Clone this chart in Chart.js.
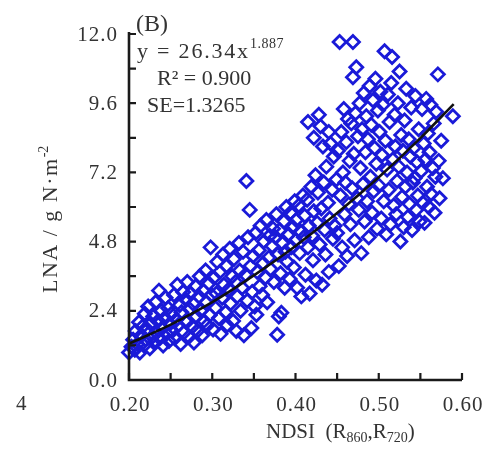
<!DOCTYPE html>
<html>
<head>
<meta charset="utf-8">
<script src="https://cdn.jsdelivr.net/npm/chart.js@4.4.1/dist/chart.umd.min.js"></script>
<style>
html,body{margin:0;padding:0;background:#fff;}
canvas{display:block;}
</style>
</head>
<body>
<canvas id="c" width="485" height="451"></canvas>
<script>
// ---- data ----
const ndsi = [
0.200,0.203,0.205,0.207,0.208,0.210,0.212,0.213,0.215,0.216,0.218,0.219,0.220,0.222,0.223,0.225,0.226,0.228,0.229,0.230,0.232,0.233,0.235,0.236,0.237,0.239,0.240,0.241,0.243,0.244,0.245,0.247,0.248,0.249,
0.251,0.252,0.254,0.255,0.257,0.258,0.259,0.261,0.262,0.263,0.265,0.266,0.268,0.269,0.270,0.272,0.273,0.274,0.276,0.277,0.278,0.280,0.281,0.282,0.284,0.285,0.286,0.288,0.289,0.290,0.292,0.293,0.294,0.296,0.297,0.298,0.299,
0.301,0.302,0.304,0.305,0.306,0.308,0.309,0.310,0.312,0.313,0.314,0.316,0.317,0.318,0.320,0.321,0.322,0.324,0.325,0.326,0.328,0.329,0.330,0.332,0.333,0.334,0.336,0.337,0.338,0.340,0.341,0.342,0.343,0.345,0.346,0.347,0.348,0.349,
0.351,0.352,0.353,0.354,0.356,0.357,0.358,0.360,0.361,0.362,0.364,0.365,0.366,0.368,0.369,0.370,0.372,0.373,0.374,0.376,0.377,0.378,0.379,0.380,0.381,0.382,0.383,0.384,0.386,0.387,0.388,0.389,0.390,0.392,0.393,0.394,0.395,0.397,0.398,0.399,
0.400,0.401,0.402,0.404,0.405,0.406,0.407,0.409,0.410,0.411,0.412,0.414,0.415,0.416,0.417,0.419,0.420,0.421,0.422,0.424,0.425,0.426,0.427,0.429,0.430,0.431,0.432,0.434,0.435,0.436,0.437,0.439,0.440,0.441,0.442,0.444,0.445,0.446,0.447,0.449,
0.415,0.428,0.440,0.422,0.433,
0.450,0.451,0.452,0.453,0.454,0.455,0.456,0.457,0.458,0.459,0.460,0.461,0.462,0.463,0.464,0.465,0.466,0.467,0.468,0.469,0.469,0.470,0.471,0.472,0.473,0.474,0.475,0.476,0.477,0.478,0.479,0.480,0.481,0.482,0.483,0.484,0.485,0.486,0.487,0.488,0.489,0.490,0.491,0.492,0.493,0.494,0.495,0.496,0.497,0.498,0.499,
0.500,0.501,0.502,0.503,0.504,0.505,0.506,0.507,0.508,0.509,0.510,0.511,0.512,0.513,0.514,0.515,0.516,0.517,0.518,0.519,0.520,0.521,0.522,0.523,0.524,0.525,0.526,0.527,0.528,0.529,0.530,0.531,0.532,0.533,0.534,0.535,0.536,0.537,0.538,0.539,0.540,0.541,0.542,0.543,0.544,0.545,0.546,0.547,0.548,0.549,
0.551,0.552,0.553,0.554,0.555,0.556,0.557,0.558,0.559,0.560,0.561,0.562,0.563,0.565,0.566,0.567,0.568,0.569,0.571,0.572,0.573,0.575,0.577,0.589
];
const lna = [
0.95,1.15,1.40,1.05,1.70,1.25,2.00,0.95,1.55,1.85,1.20,2.30,1.40,1.75,2.55,1.10,1.95,1.50,2.20,1.30,2.70,1.65,2.05,3.10,1.45,2.40,1.80,1.20,2.15,2.85,1.60,2.50,1.35,1.95,
2.30,1.70,2.95,1.45,2.10,3.30,1.90,2.60,1.25,2.35,3.05,1.65,2.80,2.00,3.40,1.50,2.45,3.00,1.85,2.65,1.30,3.25,2.20,1.70,2.90,3.60,2.40,1.55,3.10,2.05,3.80,2.70,1.90,3.35,2.25,4.60,2.95,
1.75,3.55,2.50,3.00,4.10,2.15,3.75,1.60,2.85,4.35,3.30,2.35,3.95,1.90,3.15,4.55,2.65,3.60,2.05,4.20,3.40,1.70,2.90,4.75,3.80,2.40,3.20,4.45,1.55,3.65,6.90,2.75,4.95,5.90,3.95,1.80,3.05,4.30,
2.55,5.10,2.26,3.75,4.50,3.25,5.35,2.95,4.05,4.80,3.55,5.55,2.70,4.25,5.00,3.85,4.65,5.25,3.40,4.95,5.75,1.57,4.35,2.20,5.20,3.70,2.33,4.75,5.50,3.20,4.45,6.00,4.10,5.05,3.50,5.80,4.60,5.30,3.90,6.20,
4.85,5.55,3.20,6.05,4.40,5.15,2.90,6.40,4.95,5.70,3.65,6.25,4.60,5.35,3.00,6.70,5.00,4.15,5.85,7.10,3.45,5.45,6.50,4.70,8.80,5.95,3.30,6.85,5.20,4.35,7.40,6.15,3.75,5.60,8.20,6.60,4.90,7.75,5.35,6.95,
8.95,9.20,8.60,8.40,8.10,
5.10,7.95,3.95,11.72,6.40,8.60,4.60,7.20,9.40,5.75,6.85,8.25,4.30,9.05,6.10,7.60,5.40,8.90,6.65,11.72,10.50,7.85,4.85,9.25,10.85,6.30,8.45,5.90,9.60,7.35,4.40,8.70,6.80,9.95,5.50,7.90,9.15,6.20,8.35,4.95,10.20,7.05,8.85,5.80,9.70,6.55,8.05,10.45,7.50,5.25,9.35,
6.75,8.60,10.00,5.60,7.80,9.55,6.20,11.40,8.30,5.05,7.30,9.90,6.60,8.95,5.40,10.30,11.20,7.65,6.05,9.20,8.10,5.75,6.90,9.60,7.40,10.70,4.80,8.50,6.35,7.95,5.30,9.00,6.70,10.10,7.20,5.65,8.35,6.10,7.75,9.45,5.20,6.85,8.05,7.00,9.85,5.90,7.55,6.40,8.70,5.50,
7.25,9.40,6.15,8.20,5.45,7.65,9.75,6.70,8.55,6.00,7.90,9.55,6.45,7.35,8.90,5.80,7.05,9.30,10.60,7.60,6.30,8.30,7.00,9.15
];
// fitted power curve y = 26.34x^1.887
const fitX = [0.20,0.25,0.30,0.35,0.40,0.45,0.50,0.55,0.59];
const fitY = [1.26,1.92,2.70,3.63,4.65,5.79,7.03,8.39,9.57];
// axis ticks
const xTicks = [0.20,0.30,0.40,0.50,0.60];
const xTickLabels = ['0.20','0.30','0.40','0.50','0.60'];
const xMinor = [0.25,0.35,0.45,0.55];
const yTicks = [0,2.4,4.8,7.2,9.6,12.0];
const yTickLabels = ['0.0','2.4','4.8','7.2','9.6','12.0'];
const yMinor = [1.2,3.6,6.0,8.4,10.8];

const scatterPts = ndsi.map((v,i)=>({x:v,y:lna[i]}));
const fitPts = fitX.map((v,i)=>({x:v,y:fitY[i]}));

const SERIF = '"Liberation Serif","Times New Roman",serif';
const TXT = '#333333';

const decor = {
  id:'decor',
  afterDraw(chart){
    const ctx = chart.ctx;
    const {left,right,top,bottom} = chart.chartArea;
    const xs = chart.scales.x, ys = chart.scales.y;
    ctx.save();
    // axes
    ctx.strokeStyle = '#1a1a1a';
    ctx.lineWidth = 2.6;
    ctx.beginPath();
    ctx.moveTo(left, top-2);
    ctx.lineTo(left, bottom);
    ctx.lineTo(right, bottom);
    ctx.stroke();
    ctx.lineWidth = 2.2;
    ctx.beginPath();
    xTicks.concat(xMinor).forEach(v=>{
      const p = xs.getPixelForValue(v);
      ctx.moveTo(p, bottom); ctx.lineTo(p, bottom-7);
    });
    yTicks.concat(yMinor).forEach(v=>{
      const p = ys.getPixelForValue(v);
      ctx.moveTo(left, p); ctx.lineTo(left+7, p);
    });
    ctx.stroke();

    // tick labels
    ctx.fillStyle = TXT;
    ctx.font = '21px ' + SERIF;
    ctx.letterSpacing = '1px';
    ctx.textBaseline = 'middle';
    ctx.textAlign = 'center';
    xTicks.forEach((v,i)=>{
      ctx.fillText(xTickLabels[i], xs.getPixelForValue(v)+1, bottom+25);
    });
    ctx.textAlign = 'right';
    yTicks.forEach((v,i)=>{
      ctx.fillText(yTickLabels[i], left-11, ys.getPixelForValue(v)+1);
    });
    ctx.textAlign = 'left';
    ctx.fillText('4', 16, bottom+24);
    ctx.letterSpacing = '0px';

    // annotations
    ctx.textBaseline = 'alphabetic';
    ctx.font = '24px ' + SERIF;
    ctx.fillText('(B)', 136, 31);
    ctx.font = '22px ' + SERIF;
    ctx.letterSpacing = '1.8px';
    const eq = 'y = 26.34x';
    ctx.fillText(eq, 137, 58);
    const w = ctx.measureText(eq).width;
    ctx.letterSpacing = '0.5px';
    ctx.font = '14px ' + SERIF;
    ctx.fillText('1.887', 137 + w, 48);
    ctx.letterSpacing = '0px';
    ctx.font = '22px ' + SERIF;
    ctx.fillText('R\u00B2 = 0.900', 157, 85);
    ctx.fillText('SE=1.3265', 147, 112);

    // x axis title
    let x0 = 266, yb = 438;
    const parts = [['NDSI  (R',0],['860',1],[',R',0],['720',1],[')',0]];
    parts.forEach(([t,sub])=>{
      ctx.font = (sub ? '14px ' : '21px ') + SERIF;
      ctx.fillText(t, x0, yb + (sub ? 4 : 0));
      x0 += ctx.measureText(t).width;
    });

    // y axis title (rotated)
    ctx.save();
    ctx.translate(57, 293);
    ctx.rotate(-Math.PI/2);
    ctx.font = '22px ' + SERIF;
    ctx.letterSpacing = '1.5px';
    const yt = 'LNA / g N\u00B7m';
    ctx.fillText(yt, 0, 0);
    const yw = ctx.measureText(yt).width;
    ctx.font = '14px ' + SERIF;
    ctx.letterSpacing = '0px';
    ctx.fillText('-2', yw, -9);
    ctx.restore();

    ctx.restore();
  }
};

new Chart(document.getElementById('c'), {
  type: 'scatter',
  data: {
    datasets: [
      {
        label: 'fit',
        data: fitPts,
        showLine: true,
        borderColor: '#111111',
        borderWidth: 2.6,
        pointRadius: 0,
        tension: 0.4,
        cubicInterpolationMode: 'monotone',
        fill: false,
        clip: false
      },
      {
        label: 'LNA',
        data: scatterPts,
        pointStyle: 'rectRot',
        pointRadius: 6.5,
        pointBorderWidth: 2.8,
        pointBorderColor: '#1a1ad8',
        pointBackgroundColor: 'rgba(0,0,0,0)',
        borderColor: '#1a1ad8',
        backgroundColor: 'rgba(0,0,0,0)',
        showLine: false,
        clip: false
      }
    ]
  },
  options: {
    responsive: false,
    animation: false,
    events: [],
    layout: { padding: { top: 34, right: 23, left: 0, bottom: 0 } },
    plugins: { legend: { display: false }, tooltip: { enabled: false } },
    scales: {
      x: {
        type: 'linear', min: 0.20, max: 0.60,
        grid: { display: false, drawTicks: false },
        border: { display: false },
        ticks: { display: false },
        afterBuildTicks: s => { s.ticks = xTicks.map(v=>({value:v})); },
        afterFit: s => { s.height = 71; }
      },
      y: {
        type: 'linear', min: 0, max: 12,
        grid: { display: false, drawTicks: false },
        border: { display: false },
        ticks: { display: false },
        afterBuildTicks: s => { s.ticks = yTicks.map(v=>({value:v})); },
        afterFit: s => { s.width = 129; }
      }
    }
  },
  plugins: [decor]
});
</script>
</body>
</html>
